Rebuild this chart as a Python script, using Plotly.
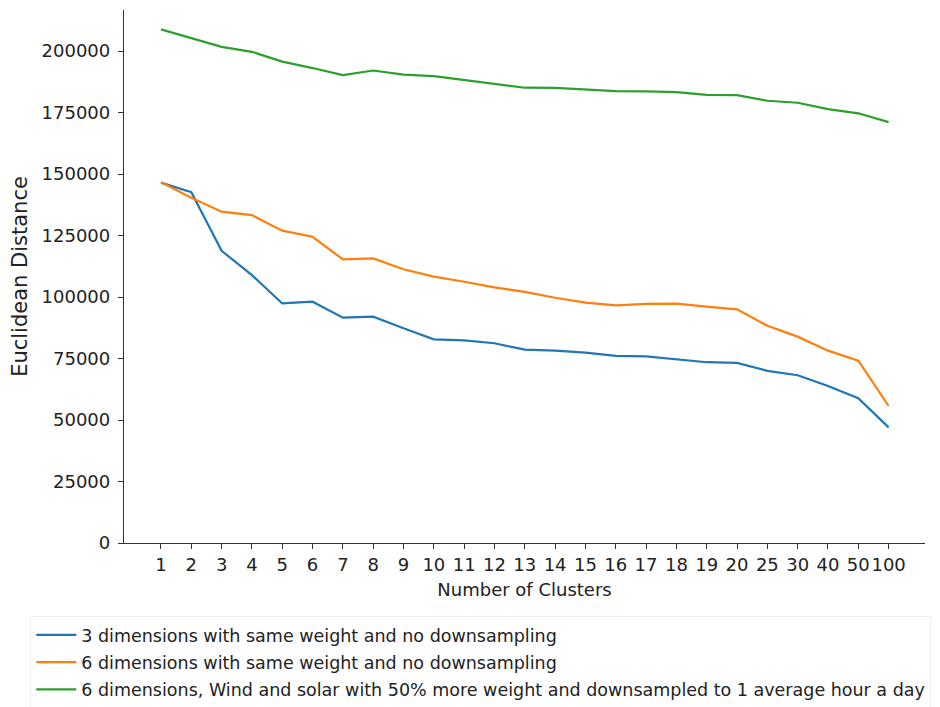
import plotly.graph_objects as go

# Number of clusters evaluated (categorical x axis)
clusters = ["1", "2", "3", "4", "5", "6", "7", "8", "9", "10", "11", "12", "13",
            "14", "15", "16", "17", "18", "19", "20", "25", "30", "40", "50", "100"]

# Euclidean distance per configuration
dist_3d_same = [146500, 142600, 118800, 108900, 97400, 98100, 91600, 92000, 87300,
                82800, 82400, 81200, 78600, 78200, 77400, 76100, 75900, 74700,
                73500, 73200, 70000, 68200, 63800, 58900, 47000]
dist_6d_same = [146700, 140400, 134700, 133300, 127000, 124500, 115300, 115700, 111300,
                108300, 106200, 103900, 102100, 99700, 97700, 96600, 97200, 97300,
                96100, 95000, 88300, 83900, 78200, 74100, 55700]
dist_6d_weighted = [208800, 205400, 201700, 199700, 195700, 193100, 190200, 192100, 190400,
                    189800, 188200, 186600, 185100, 185000, 184400, 183700, 183600, 183300,
                    182200, 182100, 179800, 179000, 176400, 174700, 171100]

series_names = [
    "3 dimensions with same weight and no downsampling",
    "6 dimensions with same weight and no downsampling",
    "6 dimensions, Wind and solar with 50% more weight and downsampled to 1 average hour a day",
]
series_colors = ["#1f77b4", "#ff7f0e", "#2ca02c"]

y_ticks = [0, 25000, 50000, 75000, 100000, 125000, 150000, 175000, 200000]

fig = go.Figure()
for i, (name, vals, color) in enumerate(zip(series_names,
                                            [dist_3d_same, dist_6d_same, dist_6d_weighted],
                                            series_colors)):
    fig.add_trace(go.Scatter(
        x=clusters, y=vals, mode="lines", name=name,
        legendgroup=f"g{i}",
        line=dict(color=color, width=2.2),
    ))

axis_font = dict(family="DejaVu Sans", size=18, color="#222222")

fig.update_layout(
    width=940, height=707,
    margin=dict(l=124, r=15, t=10, b=164, autoexpand=False),
    paper_bgcolor="white", plot_bgcolor="white",
    font=dict(family="DejaVu Sans", color="#222222"),
    showlegend=True,
    legend=dict(
        x=-0.117, y=-0.137, xanchor="left", yanchor="top",
        font=dict(family="DejaVu Sans", size=17.5, color="#222222"),
        bgcolor="white", bordercolor="#f0f0f0", borderwidth=1,
        itemwidth=40, tracegroupgap=1.5,
    ),
    xaxis=dict(
        type="category", range=[-1.22, 25.2],
        automargin=False, tickangle=0,
        showgrid=False, zeroline=False,
        showline=True, linecolor="#333333", linewidth=1.3,
        ticks="outside", ticklen=5, tickcolor="#333333", tickwidth=1.3,
        tickfont=axis_font,
        title=dict(text="Number of Clusters",
                   font=dict(family="DejaVu Sans", size=18, color="#222222"), standoff=9),
    ),
    yaxis=dict(
        range=[0, 216700],
        automargin=False,
        tickmode="array", tickvals=y_ticks, ticktext=[str(v) for v in y_ticks],
        showgrid=False, zeroline=False,
        showline=True, linecolor="#333333", linewidth=1.3,
        ticks="outside", ticklen=5, tickcolor="#333333", tickwidth=1.3,
        ticklabelstandoff=4,
        tickfont=axis_font,
        title=dict(text="Euclidean Distance",
                   font=dict(family="DejaVu Sans", size=21, color="#222222"), standoff=8),
    ),
)

fig.write_html("out.html")
